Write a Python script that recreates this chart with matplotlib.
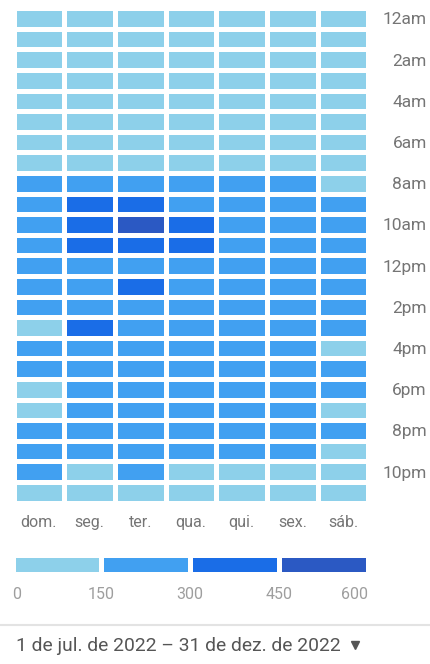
import matplotlib
matplotlib.use("Agg")
import matplotlib.pyplot as plt
import numpy as np
from matplotlib.colors import ListedColormap, BoundaryNorm
from matplotlib.lines import Line2D

plt.rcParams['font.family'] = ['Roboto', 'DejaVu Sans']

# ---- data ----
days = ["dom.", "seg.", "ter.", "qua.", "qui.", "sex.", "sáb."]
hour_labels = ["12am", "2am", "4am", "6am", "8am", "10am",
               "12pm", "2pm", "4pm", "6pm", "8pm", "10pm"]
dom = [60, 45, 35, 25, 20, 25, 40, 90, 170, 200, 230, 220, 210, 190, 180, 140,
       160, 165, 140, 145, 170, 175, 155, 110]
seg = [70, 50, 35, 25, 22, 30, 55, 120, 260, 380, 420, 400, 290, 280, 270, 310,
       260, 240, 220, 210, 200, 180, 140, 100]
ter = [65, 45, 30, 25, 20, 30, 60, 125, 270, 400, 470, 390, 295, 320, 285, 270,
       250, 235, 215, 200, 195, 175, 155, 95]
qua = [60, 40, 30, 22, 20, 28, 55, 120, 265, 290, 380, 360, 280, 270, 260, 250,
       245, 230, 210, 195, 190, 170, 140, 90]
qui = [60, 42, 30, 22, 20, 28, 55, 115, 255, 280, 290, 285, 270, 260, 255, 245,
       235, 225, 205, 190, 185, 165, 140, 90]
sex = [65, 45, 32, 24, 22, 30, 55, 110, 250, 270, 280, 275, 260, 250, 240, 230,
       220, 210, 190, 175, 170, 160, 130, 95]
sab = [75, 55, 40, 30, 25, 25, 35, 70, 130, 170, 195, 200, 190, 180, 170, 160,
       145, 155, 160, 145, 155, 140, 120, 100]
bounds = [0, 150, 300, 450, 600]
bin_colors = ["#8dd0ea", "#41a0f1", "#1a6de7", "#2b59c3"]

W, H = 430, 664
fig = plt.figure(figsize=(W / 100, H / 100), dpi=100, facecolor="white")

def fx(px):
    return px / W

def fy(py):
    return 1 - py / H

Z = np.array([dom, seg, ter, qua, qui, sex, sab]).T  # 24 x 7
cmap = ListedColormap(bin_colors)
norm = BoundaryNorm(bounds, cmap.N)

# heatmap axes
x0, x1, y0, y1 = 13.5, 368.5, 8.2, 502.5
ax = fig.add_axes([fx(x0), fy(y1), fx(x1 - x0), (y1 - y0) / H])
ax.pcolormesh(np.arange(8), np.arange(25), Z, cmap=cmap, norm=norm,
              edgecolors="white", linewidth=3.6)
ax.set_xlim(0, 7)
ax.set_ylim(24, 0)
for s in ax.spines.values():
    s.set_visible(False)
ax.set_xticks(np.arange(7) + 0.5)
ax.set_xticklabels(days, fontsize=11.5, color="#757575")
ax.tick_params(axis="x", length=0, pad=9)
ax.yaxis.tick_right()
ax.set_yticks(np.arange(0, 24, 2) + 0.5)
ax.set_yticklabels(hour_labels, fontsize=12.5, color="#757575")
ax.tick_params(axis="y", length=0, pad=42)
for lab in ax.get_yticklabels():
    lab.set_horizontalalignment("right")

# legend bar
lx0, lx1, ly0, ly1 = 12.5, 367.5, 554.5, 573.5
lax = fig.add_axes([fx(lx0), fy(ly1), fx(lx1 - lx0), (ly1 - ly0) / H])
lax.barh(0.5, np.diff(bounds), left=bounds[:-1], height=1, color=bin_colors,
         edgecolor="white", linewidth=3.6)
lax.set_xlim(bounds[0], bounds[-1])
lax.set_ylim(0, 1)
lax.axis("off")
for i, b in enumerate(bounds):
    ha = "left" if i == 0 else ("right" if i == len(bounds) - 1 else "center")
    lax.text(b, -1.1, str(b), ha=ha, va="center", fontsize=11.5,
             color="#9e9e9e", transform=lax.transData)

# separator line
fig.add_artist(Line2D([0, 1], [fy(625), fy(625)], color="#e3e3e3", lw=1.5,
                      transform=fig.transFigure))

# date range
fig.text(fx(16), fy(646), "1 de jul. de 2022 – 31 de dez. de 2022",
         fontsize=13.85, color="#555555", ha="left", va="center")
fig.add_artist(Line2D([fx(355)], [fy(645)], marker="v", markersize=6,
                      color="#555555", transform=fig.transFigure))

fig.savefig("out.png", dpi=100, facecolor="white")
